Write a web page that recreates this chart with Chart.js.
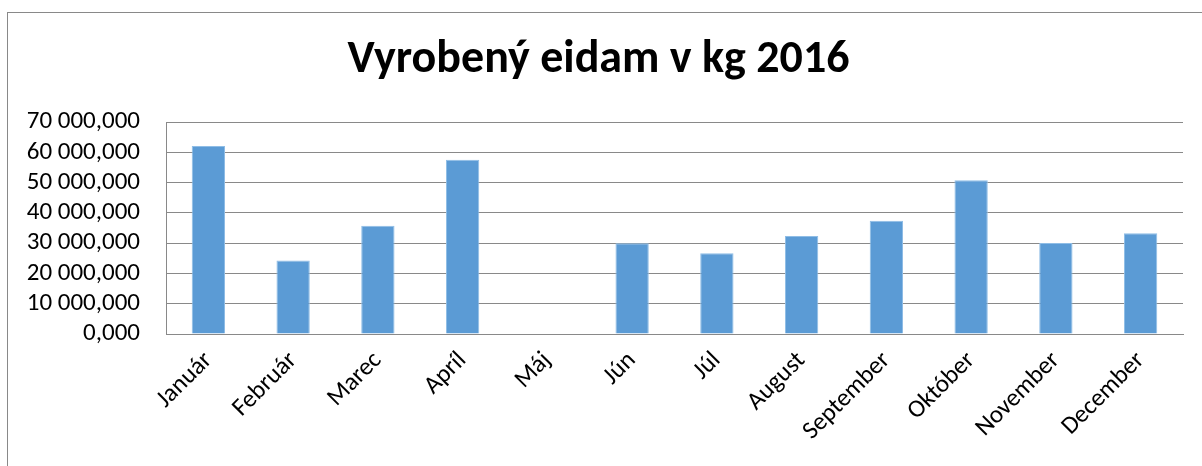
<!DOCTYPE html>
<html>
<head>
<meta charset="utf-8">
<script src="https://cdn.jsdelivr.net/npm/chart.js@4"></script>
<style>
	html, body { margin: 0; padding: 0; background: #fff; overflow: hidden; }
	#wrap { position: relative; width: 1202px; height: 466px; }
	#frame { position: absolute; left: 7px; top: 12px; width: 1400px; height: 600px; border-left: 1px solid #898989; border-top: 1px solid #898989; }
	#chart { position: absolute; left: 0; top: 0; }
</style>
</head>
<body>
<div id="wrap">
	<div id="frame"></div>
	<canvas id="chart" width="1202" height="466"></canvas>
</div>
<script>
var months = ["Január", "Február", "Marec", "Apríl", "Máj", "Jún", "Júl", "August", "September", "Október", "November", "December"];
var produced = [62100, 24300, 35800, 57600, 0, 30000, 26700, 32400, 37400, 50800, 30100, 33300];
var yTickLabels = ["0,000", "10 000,000", "20 000,000", "30 000,000", "40 000,000", "50 000,000", "60 000,000", "70 000,000"];

var fontFamily = "Carlito, Lato, sans-serif";

var ctx = document.getElementById("chart").getContext("2d");
new Chart(ctx, {
	type: "bar",
	data: {
		labels: months,
		datasets: [
			{
				label: "Vyrobený eidam",
				data: produced,
				backgroundColor: "#5b9bd5",
				borderColor: "#8fbde6",
				borderWidth: 1,
				categoryPercentage: 1,
				barPercentage: 0.393,
			},
		],
	},
	options: {
		responsive: false,
		animation: false,
		layout: { padding: { left: 14, right: 19, top: 0, bottom: 0 } },
		plugins: {
			legend: { display: false },
			tooltip: { enabled: false },
			title: {
				display: true,
				text: "Vyrobený eidam v kg 2016",
				color: "#000",
				font: { family: fontFamily, size: 46, weight: "bold", lineHeight: 1.2 },
				padding: { top: 33, bottom: 34 },
			},
		},
		scales: {
			x: {
				grid: { display: false, drawTicks: false },
				border: { color: "#898989" },
				afterFit: function (s) { s.height = 132; },
				ticks: {
					color: "#000",
					minRotation: 45,
					maxRotation: 45,
					padding: 12,
					autoSkip: false,
					font: { family: fontFamily, size: 25 },
				},
			},
			y: {
				min: 0,
				max: 70000,
				afterFit: function (s) { s.width = 152; },
				grid: { color: "#898989", drawTicks: false },
				border: { color: "#898989" },
				ticks: {
					stepSize: 10000,
					color: "#000",
					padding: 26,
					autoSkip: false,
					font: { family: fontFamily, size: 25 },
					callback: function (v) { return yTickLabels[Math.round(v / 10000)]; },
				},
			},
		},
	},
});
</script>
</body>
</html>
